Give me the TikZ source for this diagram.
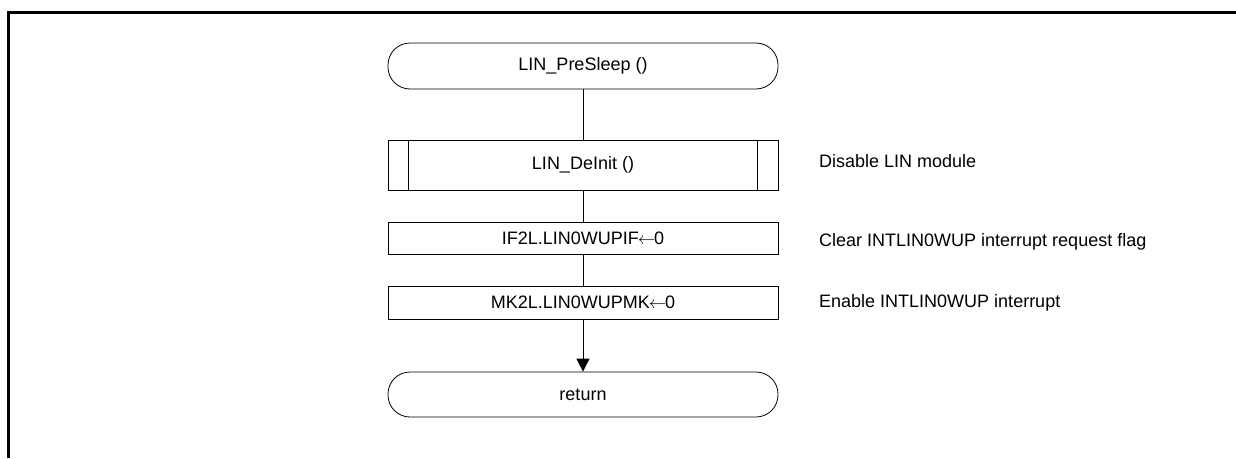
\documentclass[tikz,border=0pt]{standalone}
\usepackage{fontspec}
\setmainfont{Liberation Sans}
\usetikzlibrary{arrows.meta}
\newcommand{\asgn}{\kern-1pt$\leftarrow$\kern-1pt}
\tikzset{
	flownode/.style = {align=center, inner sep=0pt, text centered, font=\fontsize{18}{21}\selectfont, draw=black, line width=0.8pt, minimum width=390pt},
	term/.style = {flownode, rounded corners=22pt},
	proc/.style = {flownode, rectangle},
	subproc/.style = {flownode, rectangle},
	note/.style = {anchor=west, inner sep=0pt, font=\fontsize{18}{21}\selectfont},
	flow/.style = {line width=0.8pt},
	frame/.style = {line width=3pt}
}

\begin{document}
\begin{tikzpicture}[x=1pt,y=-1pt]
\useasboundingbox (0,0) rectangle (1236,458);
% frame
\draw [frame] (8,458) -- (8,12) -- (1236,12);

% flow boxes
\node [term, minimum height=46pt] (start) at (583,66) {LIN\_PreSleep ()};
\node [subproc, minimum height=50pt] (deinit) at (583,165) {LIN\_DeInit ()};
\draw [flow] ([xshift=21pt]deinit.north west) -- ([xshift=21pt]deinit.south west);
\draw [flow] ([xshift=-21pt]deinit.north east) -- ([xshift=-21pt]deinit.south east);
\node [proc, minimum height=32pt] (clrflag) at (583,238) {IF2L.LIN0WUPIF\asgn 0};
\node [proc, minimum height=33pt] (enint) at (583,302.5) {MK2L.LIN0WUPMK\asgn 0};
\node [term, minimum height=45pt] (ret) at (583,394.5) {return};

% connectors
\draw [flow] (start) -- (deinit);
\draw [flow] (deinit) -- (clrflag);
\draw [flow] (clrflag) -- (enint);
\draw [flow, -{Triangle[length=13pt,width=13pt]}] (enint) -- (ret);

% comments
\node [note] (c1) at (819,161) {Disable LIN module};
\node [note] (c2) at (819,242) {Clear INTLIN0WUP interrupt request flag};
\node [note] (c3) at (819,303) {Enable INTLIN0WUP interrupt};
\end{tikzpicture}
\end{document}
